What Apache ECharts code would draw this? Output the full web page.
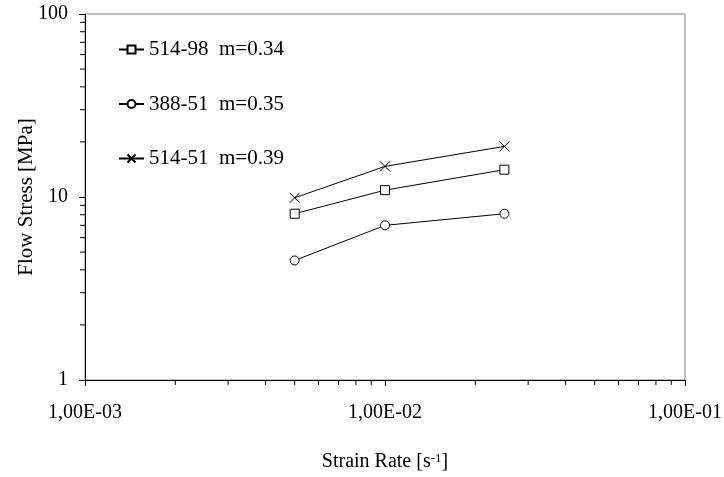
<!DOCTYPE html>
<html>
<head>
<meta charset="utf-8">
<script src="https://cdn.jsdelivr.net/npm/echarts@6/dist/echarts.min.js"></script>
<style>
  html, body { margin: 0; padding: 0; background: #fff; }
  #chart { width: 724px; height: 477px; }
</style>
</head>
<body>
<div id="chart"></div>
<script>
// strain rate [1/s]
const strainRates = [0.005, 0.01, 0.025];
const stress51498 = [8.1, 10.9, 14.1];
const stress38851 = [4.5, 7.0, 8.1];
const stress51451 = [9.9, 14.7, 18.9];
const seriesNames = ["514-98  m=0.34", "388-51  m=0.35", "514-51  m=0.39"];

// minor ticks inside each decade
const minorX = [0.002, 0.003, 0.004, 0.005, 0.006, 0.007, 0.008, 0.009,
  0.02, 0.03, 0.04, 0.05, 0.06, 0.07, 0.08, 0.09];
const minorY = [2, 3, 4, 5, 6, 7, 8, 9, 20, 30, 40, 50, 60, 70, 80, 90];

const font = "Liberation Serif";
const crossPath = "path://M0,0L10,10M10,0L0,10";

function fmtX(v) {
  const e = Math.round(Math.log10(v));
  const m = (v / Math.pow(10, e)).toFixed(2).replace(".", ",");
  const ex = Math.abs(e) < 10 ? "0" + Math.abs(e) : "" + Math.abs(e);
  return m + "E" + (e < 0 ? "-" : "+") + ex;
}

function pairs(xs, ys) {
  return xs.map((x, i) => [x, ys[i]]);
}

const chart = echarts.init(document.getElementById("chart"));

const lineStyle = { color: "#000", width: 1 };
const markStyle = { color: "#fff", borderColor: "#000", borderWidth: 1 };

const option = {
  animation: false,
  backgroundColor: "#fff",
  textStyle: { fontFamily: font },
  grid: {
    left: 85, right: 39, top: 14, bottom: 97,
    outerBoundsMode: "none",
    containLabel: false,
    show: true, borderColor: "#808080", borderWidth: 1
  },
  legend: {
    orient: "vertical",
    left: 118, top: 39,
    padding: 0,
    itemGap: 33.5,
    itemWidth: 25, itemHeight: 10,
    textStyle: { fontFamily: font, fontSize: 21, color: "#000" },
    data: seriesNames
  },
  xAxis: {
    type: "log", logBase: 10, min: 0.001, max: 0.1,
    name: "Strain Rate [s{sup|-1}]",
    nameLocation: "middle", nameGap: 72,
    nameMoveOverlap: false,
    nameTextStyle: {
      fontFamily: font, fontSize: 20, color: "#000",
      rich: { sup: { fontFamily: font, fontSize: 13, color: "#000", verticalAlign: "top", padding: [0, 0, 7, 0] } }
    },
    axisLine: { show: true, lineStyle: { color: "#000", width: 1 } },
    axisTick: { show: true, inside: false, length: 6, lineStyle: { color: "#000" } },
    axisLabel: { fontFamily: font, fontSize: 20, color: "#000", margin: 23, formatter: fmtX },
    splitLine: { show: false }
  },
  yAxis: {
    type: "log", logBase: 10, min: 1, max: 100,
    name: "Flow Stress [MPa]",
    nameLocation: "middle", nameGap: 48,
    nameMoveOverlap: false,
    nameTextStyle: { fontFamily: font, fontSize: 21, color: "#000" },
    axisLine: { show: true, lineStyle: { color: "#000", width: 1 } },
    axisTick: { show: true, inside: false, length: 6, lineStyle: { color: "#000" } },
    axisLabel: { fontFamily: font, fontSize: 20, color: "#000", margin: 17 },
    splitLine: { show: false }
  },
  series: [
    {
      name: seriesNames[0], type: "line",
      data: pairs(strainRates, stress51498),
      symbol: "rect", symbolSize: 9,
      lineStyle: lineStyle, itemStyle: markStyle
    },
    {
      name: seriesNames[1], type: "line",
      data: pairs(strainRates, stress38851),
      symbol: "circle", symbolSize: 9,
      lineStyle: lineStyle, itemStyle: markStyle
    },
    {
      name: seriesNames[2], type: "line",
      data: pairs(strainRates, stress51451),
      symbol: crossPath, symbolSize: 10,
      lineStyle: lineStyle, itemStyle: markStyle
    },
    {
      // minor ticks for the log x axis
      type: "custom", silent: true, clip: false,
      data: minorX.map(v => [v, 1]),
      renderItem: function (params, api) {
        const p = api.coord([api.value(0), 1]);
        return {
          type: "line",
          shape: { x1: p[0], y1: p[1], x2: p[0], y2: p[1] + 5 },
          style: { stroke: "#000", lineWidth: 1 }
        };
      }
    },
    {
      // minor ticks for the log y axis
      type: "custom", silent: true, clip: false,
      data: minorY.map(v => [0.001, v]),
      renderItem: function (params, api) {
        const p = api.coord([0.001, api.value(1)]);
        return {
          type: "line",
          shape: { x1: p[0] - 5, y1: p[1], x2: p[0], y2: p[1] },
          style: { stroke: "#000", lineWidth: 1 }
        };
      }
    }
  ]
};

chart.setOption(option);
</script>
</body>
</html>
